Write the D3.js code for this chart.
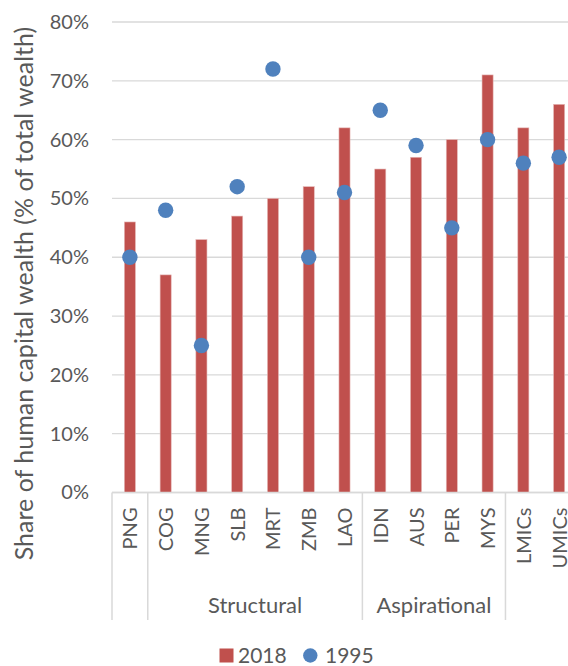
<!DOCTYPE html>
<html><head><meta charset="utf-8">
<script src="https://cdn.jsdelivr.net/npm/d3@7"></script>
<style>
body{margin:0;background:#fff;}
svg{display:block;font-family:Lato,"Open Sans",sans-serif;}
</style></head>
<body>
<svg id="chart" width="568" height="666"></svg>
<script>
const categories = ["PNG","COG","MNG","SLB","MRT","ZMB","LAO","IDN","AUS","PER","MYS","LMICs","UMICs"];
const values2018 = [0.46,0.37,0.43,0.47,0.50,0.52,0.62,0.55,0.57,0.60,0.71,0.62,0.66];
const values1995 = [0.40,0.48,0.25,0.52,0.72,0.40,0.51,0.65,0.59,0.45,0.60,0.56,0.57];
const groups = [
  {label:"", from:"PNG", to:"PNG"},
  {label:"Structural", from:"COG", to:"LAO"},
  {label:"Aspirational", from:"IDN", to:"MYS"},
  {label:"", from:"LMICs", to:"UMICs"}
];
const yTicks = [0,0.1,0.2,0.3,0.4,0.5,0.6,0.7,0.8];
const seriesNames = ["2018","1995"];

(function(){
const svg = d3.select("#chart");
const pLeft = 112, pRight = 577, pTop = 22, pBottom = 492.5;
const x = d3.scaleBand().domain(categories).range([pLeft,pRight]);
const y = d3.scaleLinear().domain([0,0.8]).range([pBottom,pTop]);
const red = "#C0504D", blue = "#4F81BD", textCol = "#595959", gridCol = "#D9D9D9";

// gridlines
svg.append("g").selectAll("line").data(yTicks).join("line")
  .attr("x1",pLeft).attr("x2",pRight)
  .attr("y1",d=>y(d)).attr("y2",d=>y(d))
  .attr("stroke",gridCol).attr("stroke-width",1.3);

// y tick labels
const yAxis = d3.axisLeft(y).tickValues(yTicks).tickFormat(d3.format(".0%")).tickSize(0).tickPadding(23);
const ya = svg.append("g").attr("transform",`translate(${pLeft},0)`).call(yAxis);
ya.select(".domain").remove();
ya.selectAll("text").attr("fill",textCol).style("font-size","20px").style("font-family","Lato,'Open Sans',sans-serif");

// bars
const bw = x.bandwidth()*0.31;
svg.append("g").selectAll("rect").data(categories).join("rect")
  .attr("x",(d)=>x(d)+x.bandwidth()/2-bw/2)
  .attr("width",bw)
  .attr("y",(d,i)=>y(values2018[i]))
  .attr("height",(d,i)=>y(0)-y(values2018[i]))
  .attr("fill",red).attr("stroke","#E6B9B8").attr("stroke-width",0.6);

// dots
svg.append("g").selectAll("circle").data(categories).join("circle")
  .attr("cx",d=>x(d)+x.bandwidth()/2)
  .attr("cy",(d,i)=>y(values1995[i]))
  .attr("r",7.7).attr("fill",blue);

// x axis baseline
svg.append("line").attr("x1",pLeft).attr("x2",pRight).attr("y1",pBottom).attr("y2",pBottom)
  .attr("stroke",gridCol).attr("stroke-width",1.5);

// category labels
svg.append("g").selectAll("text").data(categories).join("text")
  .attr("transform",d=>`translate(${x(d)+x.bandwidth()/2+7.5},${pBottom+15}) rotate(-90)`)
  .attr("text-anchor","end")
  .attr("fill",textCol).style("font-size","20px")
  .text(d=>d);

// group separators
const sepBottom = 620;
const seps = [pLeft];
groups.forEach(g=>{ seps.push(x(g.to)+x.bandwidth()); });
svg.append("g").selectAll("line").data(seps.filter(s=>s<pRight-1)).join("line")
  .attr("x1",d=>d).attr("x2",d=>d).attr("y1",pBottom).attr("y2",sepBottom)
  .attr("stroke",gridCol).attr("stroke-width",1.5);

svg.append("g").selectAll("text").data(groups.filter(g=>g.label)).join("text")
  .attr("x",g=>(x(g.from)+x(g.to)+x.bandwidth())/2)
  .attr("y",613)
  .attr("text-anchor","middle").attr("fill",textCol).style("font-size","22px")
  .text(g=>g.label);

// y axis title
svg.append("text")
  .attr("transform",`translate(33,293.5) rotate(-90)`)
  .attr("text-anchor","middle").attr("fill",textCol).style("font-size","25px")
  .text("Share of human capital wealth (% of total wealth)");

// legend
const lg = svg.append("g");
lg.append("rect").attr("x",219.5).attr("y",648.5).attr("width",14).attr("height",14).attr("fill",red);
lg.append("text").attr("x",238).attr("y",663.3).attr("fill",textCol).style("font-size","21px").text(seriesNames[0]);
lg.append("circle").attr("cx",310.3).attr("cy",655.5).attr("r",7.2).attr("fill",blue);
lg.append("text").attr("x",325).attr("y",663.3).attr("fill",textCol).style("font-size","21px").text(seriesNames[1]);
})();
</script>
</body></html>
